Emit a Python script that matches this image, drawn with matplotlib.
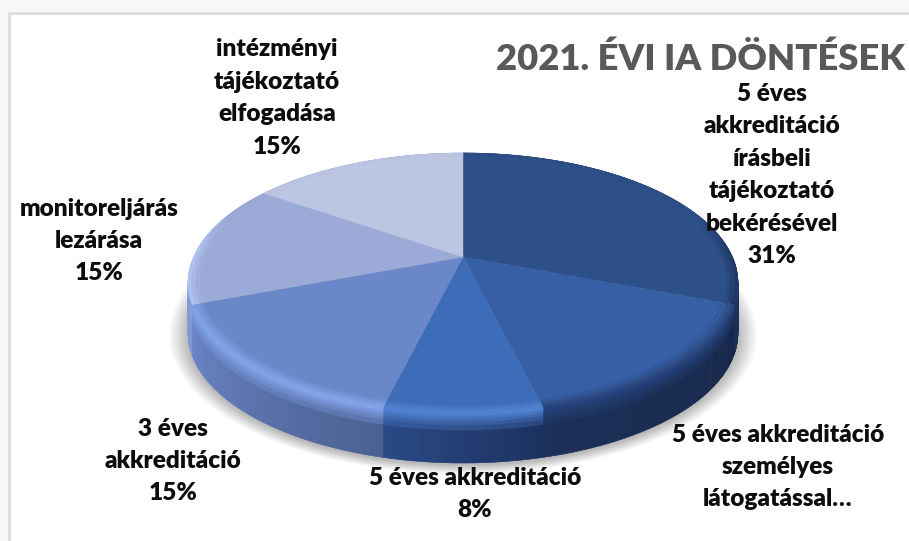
import matplotlib
matplotlib.use('Agg')
import matplotlib.pyplot as plt
from matplotlib.collections import PolyCollection
from matplotlib.colors import to_rgb
from matplotlib.patches import Rectangle
import numpy as np

# number of decisions per category (13 in total), clockwise from the top
counts = [4, 2, 1, 2, 2, 2]
labels = ['5 éves\nakkreditáció\nírásbeli\ntájékoztató\nbekérésével',
          '5 éves akkreditáció\nszemélyes\nlátogatással…',
          '5 éves akkreditáció',
          '3 éves\nakkreditáció',
          'monitoreljárás\nlezárása',
          'intézményi\ntájékoztató\nelfogadása']
show_pct = [True, False, True, True, True, True]
title = '2021. ÉVI IA DÖNTÉSEK'

# colours of each slice: top face, bevel, side (right end), side (left end)
face_cols = ['#2e5089', '#365fa5', '#3d6db8', '#6a87c8', '#9baad6', '#bcc6e2']
rim_cols = ['#1f3868', '#24427c', '#4f82d2', '#82a4ec', '#b4c6f4', '#c8d2ec']
side_r = ['#16264a', '#17284a', '#1c3260', '#4c6192', '#7f98d4', '#8da4dd']
side_l = ['#1b2f58', '#1c3058', '#2a4a86', '#6a86c8', '#8da8e4', '#8da4dd']
label_x = [772, 778, 475, 173, 99, 277]
label_y = [175, 467, 494, 461, 241, 98]

# pie placement in pixels
apex_x, apex_y = 463, 257
rx, ry, persp = 269.4, 124.8, 0.2
depth = 50


def project(theta, r=1.0, drop=0.0):
    # circle seen in perspective, theta in radians
    u = r * np.cos(theta)
    v = r * np.sin(theta)
    w = 1 + persp * v
    return apex_x + rx * u / w, apex_y - ry * v / w + drop


def mix(a, b, f):
    return tuple((1 - f) * x + f * y for x, y in zip(to_rgb(a), to_rgb(b)))


fig = plt.figure(figsize=(9.09, 5.41), dpi=100, facecolor='#f8f8f8')
ax = fig.add_axes([0, 0, 1, 1])
ax.set_xlim(0, 909)
ax.set_ylim(541, 0)
ax.axis('off')
ax.add_patch(Rectangle((9, 13), 960, 600, fc='white', ec='#dcdcdc', lw=2))

shares = np.array(counts) / sum(counts)
edges = np.pi / 2 - 2 * np.pi * np.concatenate([[0], np.cumsum(shares)])

# soft shadow below the pie
circle = np.linspace(0, 2 * np.pi, 200)
for grow in np.linspace(1.0, 1.07, 18):
    sx, sy = project(circle, 1.0, depth)
    sx = apex_x + (sx - apex_x) * grow
    sy = 284 + depth + 2 + (sy - 284 - depth) * grow
    ax.fill(sx, sy, color='black', alpha=0.014, lw=0, zorder=1)

polys, cols = [], []
bands = np.array([0, .06, .12, .18, .25, .35, 1.0])

# side wall, with the bevel fading into it
for i in range(len(counts)):
    steps = max(int((edges[i] - edges[i + 1]) * 120), 2)
    ang = np.linspace(edges[i], edges[i + 1], steps + 1)
    for j in range(steps):
        pos = (j + 0.5) / steps
        base = mix(side_r[i], side_l[i], pos)
        v = np.sin(ang[j])
        weight = np.clip((0.35 - v) / 0.3, 0, 1)
        for b0, b1 in zip(bands[:-1], bands[1:]):
            x0, y0 = project(ang[j], 1, b0 * depth)
            x1, y1 = project(ang[j + 1] - 0.002, 1, b0 * depth)
            x2, y2 = project(ang[j + 1] - 0.002, 1, b1 * depth)
            x3, y3 = project(ang[j], 1, b1 * depth)
            polys.append([(x0, y0), (x1, y1), (x2, y2), (x3, y3)])
            fade = max(0, 1 - b0 / 0.35) * weight
            cols.append(mix(base, rim_cols[i], fade))
ax.add_collection(PolyCollection(polys, facecolors=cols, edgecolors=cols, lw=0.4, zorder=2))

# top face, the outer ring picks up the bevel colour
polys, cols = [], []
for i in range(len(counts)):
    ang = np.linspace(edges[i], edges[i + 1], 100)
    x, y = project(ang, 0.965)
    polys.append([(apex_x, apex_y)] + list(zip(x, y)))
    cols.append(to_rgb(face_cols[i]))
    steps = max(int((edges[i] - edges[i + 1]) * 120), 2)
    ang = np.linspace(edges[i], edges[i + 1], steps + 1)
    for j in range(steps):
        v = np.sin(ang[j])
        weight = np.clip((0.35 - v) / 0.3, 0, 1)
        for r0, r1, f in [(.96, .975, .25), (.975, .99, .6), (.99, 1.0, .9)]:
            x0, y0 = project(ang[j], r0)
            x1, y1 = project(ang[j + 1], r0)
            x2, y2 = project(ang[j + 1], r1)
            x3, y3 = project(ang[j], r1)
            polys.append([(x0, y0), (x1, y1), (x2, y2), (x3, y3)])
            cols.append(mix(face_cols[i], rim_cols[i], f * weight))
ax.add_collection(PolyCollection(polys, facecolors=cols, edgecolors=cols, lw=0.3, zorder=3))

# data labels
for i in range(len(counts)):
    txt = labels[i]
    if show_pct[i]:
        txt += '\n%d%%' % round(shares[i] * 100)
    ax.text(label_x[i], label_y[i], txt, ha='center', va='center', family='Lato',
            weight='heavy', fontsize=17.6, color='#0d0d0d', linespacing=1.58, zorder=5)

ax.text(701, 59, title, ha='center', va='center', family='Lato', weight='heavy',
        fontsize=26.2, color='#595959', zorder=5)

fig.savefig('out.png', dpi=100, facecolor=fig.get_facecolor())
